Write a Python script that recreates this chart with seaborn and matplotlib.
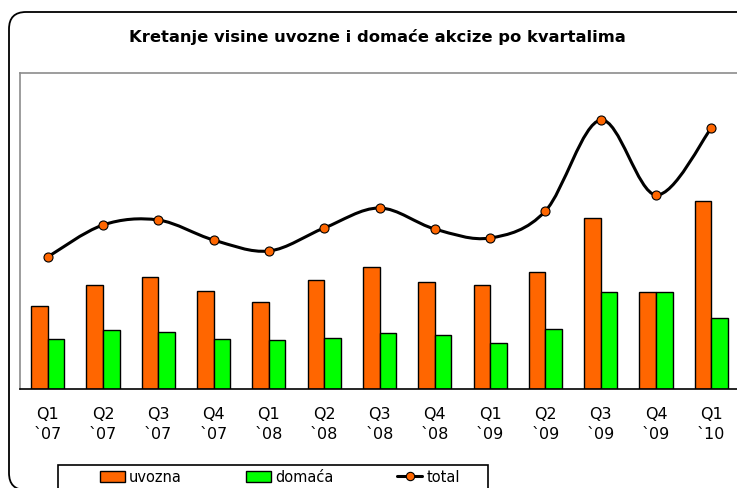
import numpy as np
import pandas as pd
import matplotlib
matplotlib.use('Agg')
import matplotlib.pyplot as plt
import seaborn as sns
from matplotlib.path import Path
from matplotlib.patches import PathPatch, FancyBboxPatch, Rectangle, Patch
from matplotlib.lines import Line2D

# data (same units as the bar heights)
kvartali = ['Q1\n`07', 'Q2\n`07', 'Q3\n`07', 'Q4\n`07',
            'Q1\n`08', 'Q2\n`08', 'Q3\n`08', 'Q4\n`08',
            'Q1\n`09', 'Q2\n`09', 'Q3\n`09', 'Q4\n`09',
            'Q1\n`10']
uvozna = [83, 104, 112, 98, 87, 109, 122, 107, 104, 117, 171, 97, 188]
domaca = [50, 59, 57, 50, 49, 51, 56, 54, 46, 60, 97, 97, 71]
total = [132, 164, 169, 149, 138, 161, 181, 160, 151, 178, 269, 194, 261]

naslov = 'Kretanje visine uvozne i domaće akcize po kvartalima'
boje = {'uvozna': '#FF6600', 'domaća': '#00FF00'}

sns.set_style('white')
plt.rcParams['font.family'] = ['DejaVu Sans']
plt.rcParams['text.color'] = 'black'
plt.rcParams['xtick.color'] = 'black'

W, H = 737, 489
fig = plt.figure(figsize=(W / 100, H / 100), dpi=100)

# plot area in pixels
left, right, top, bottom = 20, 739, 74, 390
ax = fig.add_axes([left / W, 1 - bottom / H, (right - left) / W, (bottom - top) / H])

# long format for seaborn
df = pd.DataFrame({
    'kvartal': kvartali * 2,
    'serija': ['uvozna'] * len(kvartali) + ['domaća'] * len(kvartali),
    'vrijednost': uvozna + domaca,
})

sns.barplot(data=df, x='kvartal', y='vrijednost', hue='serija',
            palette=boje, width=0.6, edgecolor='black', linewidth=1,
            saturation=1, ax=ax, legend=False)

# smoothed total line (Excel style bezier through the points)
xs = np.arange(len(total), dtype=float)
ys = np.array(total, dtype=float)
verts = [(xs[0], ys[0])]
codes = [Path.MOVETO]
n = len(xs)
for i in range(n - 1):
    p0 = np.array([xs[max(i - 1, 0)], ys[max(i - 1, 0)]])
    p1 = np.array([xs[i], ys[i]])
    p2 = np.array([xs[i + 1], ys[i + 1]])
    p3 = np.array([xs[min(i + 2, n - 1)], ys[min(i + 2, n - 1)]])
    c1 = p1 + (p2 - p0) / 6
    c2 = p2 - (p3 - p1) / 6
    verts += [tuple(c1), tuple(c2), tuple(p2)]
    codes += [Path.CURVE4] * 3
ax.add_patch(PathPatch(Path(verts, codes), facecolor='none',
                       edgecolor='black', lw=2.2, zorder=4))
ax.plot(xs, ys, linestyle='none', marker='o', markersize=6.5,
        markerfacecolor='#FF6600', markeredgecolor='black',
        markeredgewidth=0.8, zorder=5)

ax.set_xlim(-0.5, len(kvartali) - 0.5)
ax.set_ylim(0, bottom - top)
ax.set_xlabel('')
ax.set_ylabel('')
ax.set_yticks([])

# category labels + boundary tick marks
ax.set_xticks(range(len(kvartali)))
ax.set_xticklabels(kvartali, fontsize=11.5, linespacing=1.45, color='black')
ax.tick_params(axis='x', which='major', length=0, pad=12)
ax.set_xticks(np.arange(-0.5, len(kvartali), 1), minor=True)
ax.tick_params(axis='x', which='minor', length=5, width=1, color='#333333',
               direction='out')

for s in ['left', 'top', 'right']:
    ax.spines[s].set_color('#8c8c8c')
    ax.spines[s].set_linewidth(1.2)
ax.spines['bottom'].set_color('black')
ax.spines['bottom'].set_linewidth(1.2)

# title
fig.text(377.5 / W, 1 - 37 / H, naslov, ha='center', va='center',
         fontsize=11.8, fontweight='bold', color='black')

# rounded outer border
fig.patches.append(FancyBboxPatch((9 / 100, -2 / 100), 7.6, (H - 13 + 2) / 100,
                                  boxstyle='round,pad=0,rounding_size=0.17',
                                  transform=fig.dpi_scale_trans,
                                  facecolor='none', edgecolor='black', lw=1.3))

# legend frame
fig.patches.append(Rectangle((58 / W, -0.05), (488 - 58) / W, 0.05 + 1 - 466 / H,
                             transform=fig.transFigure, facecolor='none',
                             edgecolor='black', lw=1.2))
handles = [Patch(facecolor=boje['uvozna'], edgecolor='black', lw=1),
           Patch(facecolor=boje['domaća'], edgecolor='black', lw=1),
           Line2D([], [], color='black', lw=2.2, marker='o', markersize=6,
                  markerfacecolor='#FF6600', markeredgecolor='black',
                  markeredgewidth=0.8)]
fig.legend(handles, ['uvozna', 'domaća', 'total'], ncol=3, mode='expand',
           loc='center left', frameon=False, fontsize=10.5,
           bbox_to_anchor=(100 / W, 1 - 478 / H, (460 - 100) / W, 0.0),
           borderaxespad=0, borderpad=0, handlelength=1.7, handleheight=0.7,
           handletextpad=0.3, labelcolor='black')

fig.savefig('out.png', dpi=100)
